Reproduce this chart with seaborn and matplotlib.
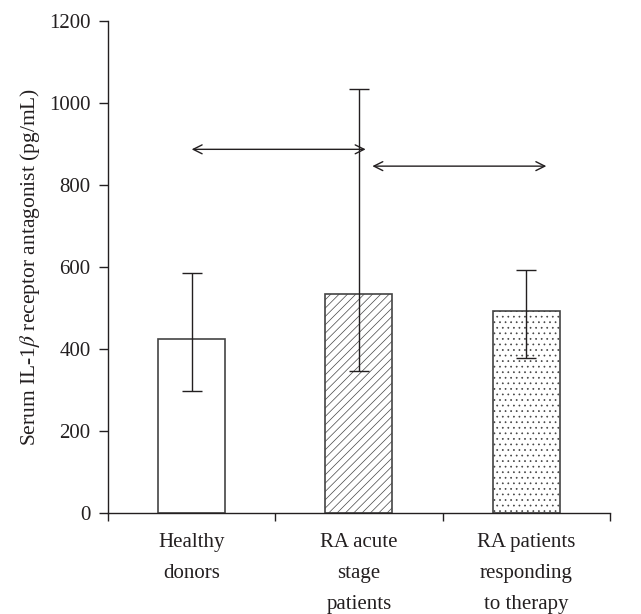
import matplotlib
matplotlib.use('Agg')
import matplotlib.pyplot as plt
import seaborn as sns
import pandas as pd
import numpy as np

# values (pg/mL)
groups = ['Healthy\ndonors', 'RA acute\nstage\npatients', 'RA patients\nresponding\nto therapy']
means = [424, 533, 493]
err_low = [298, 347, 378]
err_high = [585, 1035, 593]
hatches = ['', '////', '...']

# comparison arrows: (x start, x end, y)
arrows = [(0.0, 1.04, 887), (1.08, 2.12, 846)]

sns.set_style('ticks')
plt.rcParams['font.family'] = ['Liberation Serif', 'DejaVu Serif']
plt.rcParams['mathtext.fontset'] = 'stix'
plt.rcParams['hatch.linewidth'] = 0.5
ink = '#231f20'

df = pd.DataFrame({'group': groups, 'value': means})

fig = plt.figure(figsize=(6.41, 6.14), dpi=100)
ax = fig.add_axes([0.1685, 0.1645, 0.783, 0.8013])

sns.barplot(data=df, x='group', y='value', color='white', width=0.4,
            edgecolor='#444444', linewidth=1.2, errorbar=None, ax=ax)
for patch, h in zip(ax.patches, hatches):
    patch.set_hatch(h)
    patch.set_facecolor('white')

x = np.arange(len(groups))
m = np.array(means)
yerr = np.vstack([m - np.array(err_low), np.array(err_high) - m])
ax.errorbar(x, m, yerr=yerr, fmt='none', ecolor=ink, elinewidth=1.0,
            capsize=7, capthick=1.0, zorder=5)

for x0, x1, y in arrows:
    ax.annotate('', xy=(x1, y), xytext=(x0, y),
                arrowprops=dict(arrowstyle='<->', color=ink, lw=1.0,
                                mutation_scale=16, shrinkA=0, shrinkB=0))

ax.set_xlim(-0.5, 2.5)
ax.set_ylim(0, 1200)
ax.set_yticks(range(0, 1201, 200))
ax.set_xticks(x)
ax.set_xticklabels(groups, linespacing=1.85)
ax.set_xticks([-0.5, 0.5, 1.5, 2.5], minor=True)
ax.tick_params(axis='x', which='major', length=0, pad=14.5, labelsize=15, colors=ink)
ax.tick_params(axis='x', which='minor', length=6, width=1.0, color=ink, direction='out')
ax.tick_params(axis='y', length=6.5, width=1.0, pad=6, labelsize=15, colors=ink)
ax.set_xlabel('')
ax.set_ylabel(r'Serum IL-1$\beta$ receptor antagonist (pg/mL)', fontsize=15.5, color=ink, labelpad=5.5)

for s in ['top', 'right']:
    ax.spines[s].set_visible(False)
for s in ['left', 'bottom']:
    ax.spines[s].set_color(ink)
    ax.spines[s].set_linewidth(1.0)

fig.savefig('out.png', dpi=100)
